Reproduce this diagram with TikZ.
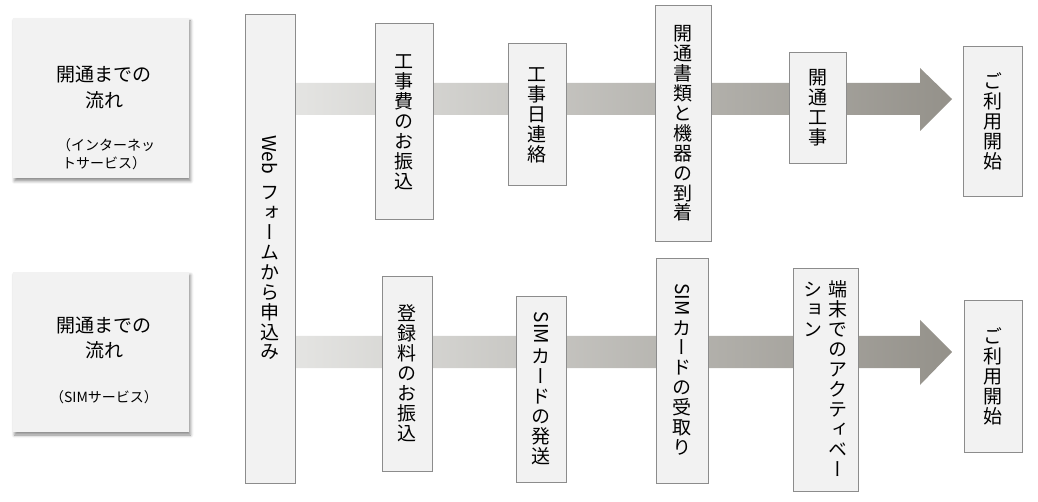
\documentclass[tikz,border=0pt]{standalone}
\usepackage{fontspec}
\usetikzlibrary{shadows,shadows.blur}
\newfontfamily\jp{Noto Sans CJK JP}
\newfontfamily\vjp{Noto Sans CJK JP}[RawFeature=+vert]
\definecolor{boxfill}{RGB}{242,242,242}
\definecolor{boxline}{RGB}{140,140,140}
\definecolor{bandL}{RGB}{228,228,226}
\definecolor{bandR}{RGB}{148,145,138}
\makeatletter
% one column of upright CJK characters, fixed pitch
\newcommand\vjrows[1]{\@tfor\vc@:=#1\do{%
  \kern.905em\hbox to 1em{\hss\smash{\vjp\vc@}\hss}\kern.145em}}
\makeatother
% Latin run turned sideways inside a vertical column
\newcommand\vlat[1]{\hbox to 1em{\hss\rotatebox{-90}{\jp #1}\hss}\kern2pt}
\newcommand\vcol[1]{\vtop{\offinterlineskip #1}}
\begin{document}
\begin{tikzpicture}[x=1pt,y=-1pt,
  stepbox/.style={draw=boxline, line width=0.9pt, fill=boxfill, inner sep=0pt,
    font=\fontsize{19}{25}\selectfont},
  titlebox/.style={fill=boxfill, draw=none, inner sep=0pt,
    blur shadow={shadow xshift=1.5pt, shadow yshift=-3pt, shadow blur radius=3pt, shadow opacity=45}},
  ttl/.style={font=\jp\fontsize{19}{25}\selectfont, inner sep=0pt},
  sub/.style={font=\jp\fontsize{14}{18}\selectfont, inner sep=0pt},
  band/.style={left color=bandL, right color=bandR, draw=none},
]
\useasboundingbox (0,0) rectangle (1038,502);

% title boxes
\node[titlebox, minimum width=176pt, minimum height=160pt] (t1) at (101,98) {};
\node[ttl] (t1a) at (104,75) {開通までの};
\node[ttl] (t1b) at (104,100) {流れ};
\node[sub] (t1c) at (106,145) {（インターネッ};
\node[sub] (t1d) at (104,163) {トサービス）};

\node[titlebox, minimum width=176pt, minimum height=160pt] (t2) at (101,352) {};
\node[ttl] (t2a) at (104,326) {開通までの};
\node[ttl] (t2b) at (104,350) {流れ};
\node[sub] (t2c) at (104,397) {（SIMサービス）};

% arrows (bands)
\coordinate (a1e) at (952,99);
\shade[band] (295,83) -- (920,83) -- (920,68) -- (a1e) -- (920,131) -- (920,115) -- (295,115) -- cycle;
\coordinate (a2e) at (952,352);
\shade[band] (295,336) -- (920,336) -- (920,320) -- (a2e) -- (920,385) -- (920,368) -- (295,368) -- cycle;

% web form box
\node[stepbox, minimum width=50pt, minimum height=469pt] (web) at (270,248.5)
  {\vcol{\vlat{Web}\kern6pt\vjrows{フォームから申込み}}};

% top row
\node[stepbox, minimum width=58pt, minimum height=196pt] (b1) at (404,121) {\vcol{\vjrows{工事費のお振込}}};
\node[stepbox, minimum width=58pt, minimum height=142pt] (b2) at (537,114) {\vcol{\vjrows{工事日連絡}}};
\node[stepbox, minimum width=56pt, minimum height=236pt] (b3) at (683,123) {\vcol{\vjrows{開通書類と機器の到着}}};
\node[stepbox, minimum width=57pt, minimum height=111pt] (b4) at (817.5,107.5) {\vcol{\vjrows{開通工事}}};
\node[stepbox, minimum width=59pt, minimum height=150pt] (b5) at (992.5,121) {\vcol{\vjrows{ご利用開始}}};

% bottom row
\node[stepbox, minimum width=50pt, minimum height=195pt] (c1) at (407,373.5) {\vcol{\vjrows{登録料のお振込}}};
\node[stepbox, minimum width=50pt, minimum height=186pt] (c2) at (541,389) {\vcol{\vlat{SIM}\vjrows{カードの発送}}};
\node[stepbox, minimum width=52pt, minimum height=225pt] (c3) at (682,370.5) {\vcol{\vlat{SIM}\vjrows{カードの受取り}}};
\node[stepbox, minimum width=65pt, minimum height=223pt] (c4) at (825.5,379.5)
  {\hbox{\vcol{\vjrows{ション}}\kern6pt\vcol{\vjrows{端末でのアクティベー}}}};
\node[stepbox, minimum width=58pt, minimum height=152pt] (c5) at (993,376) {\vcol{\vjrows{ご利用開始}}};
\end{tikzpicture}
\end{document}
